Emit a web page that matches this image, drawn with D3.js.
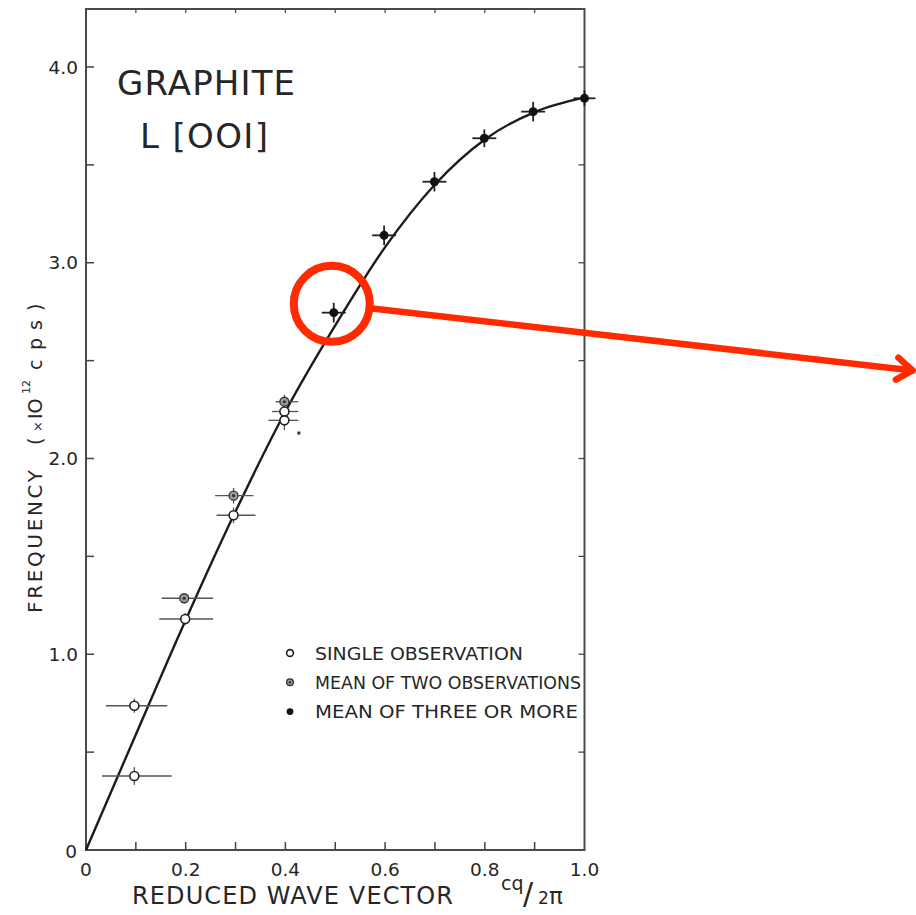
<!DOCTYPE html>
<html>
<head>
<meta charset="utf-8">
<script src="https://cdn.jsdelivr.net/npm/d3@7"></script>
<style>
  body { margin: 0; background: #fff; }
  svg text { font-family: "DejaVu Sans", sans-serif; fill: #262626; }
</style>
</head>
<body>
<svg id="chart" width="916" height="915"></svg>
<script>
// dispersion curve
const curveQ = [0, 0.1, 0.2, 0.3, 0.4, 0.5, 0.6, 0.7, 0.8, 0.9, 1.0];
const curveF = [0, 0.59, 1.175, 1.73, 2.24, 2.68, 3.08, 3.40, 3.63, 3.77, 3.845];

// single observations: q, freq, q-bar low/high, freq error
const singleQ = [0.097, 0.097, 0.199, 0.296, 0.398, 0.398];
const singleF = [0.378, 0.737, 1.18, 1.71, 2.24, 2.195];
const singleLo = [0.032, 0.040, 0.147, 0.262, 0.373, 0.366];
const singleHi = [0.172, 0.163, 0.255, 0.340, 0.426, 0.426];
const singleErr = [0.045, 0.036, 0.03, 0.04, 0.02, 0.05];

// mean of two observations
const twoQ = [0.197, 0.296, 0.398];
const twoF = [1.286, 1.81, 2.29];
const twoLo = [0.152, 0.259, 0.380];
const twoHi = [0.255, 0.336, 0.426];
const twoErr = [0.025, 0.04, 0.035];

// mean of three or more
const threeQ = [0.497, 0.598, 0.699, 0.799, 0.897, 1.0];
const threeF = [2.745, 3.14, 3.414, 3.636, 3.772, 3.84];
const threeLo = [0.473, 0.574, 0.675, 0.775, 0.873, 0.978];
const threeHi = [0.521, 0.622, 0.723, 0.823, 0.921, 1.022];
const threeErr = [0.05, 0.05, 0.05, 0.045, 0.05, 0.04];

const xTicks = [0, 0.2, 0.4, 0.6, 0.8, 1.0];
const xTickLabels = ["0", "0.2", "0.4", "0.6", "0.8", "1.0"];
const yTicks = [0, 1, 2, 3, 4];
const yTickLabels = ["0", "1.0", "2.0", "3.0", "4.0"];

const legendLabels = ["SINGLE OBSERVATION", "MEAN OF TWO OBSERVATIONS", "MEAN OF THREE OR MORE"];

// red call-out around the 0.5 point (data coords), arrow end off to the right
const calloutQ = 0.493, calloutF = 2.79;
const arrowQ = 1.658, arrowF = 2.45;

const svg = d3.select("#chart");
const x = d3.scaleLinear().domain([0, 1]).range([86, 584.5]);
const y = d3.scaleLinear().domain([0, 4]).range([850, 67]);
const frameTop = 9;

const ink = "#222";

// frame
svg.append("rect")
  .attr("x", x(0)).attr("y", frameTop)
  .attr("width", x(1) - x(0)).attr("height", y(0) - frameTop)
  .attr("fill", "none").attr("stroke", "#4a4a4a").attr("stroke-width", 2);

// minor ticks on all sides
const qTicks = d3.range(0, 11).map(i => i / 10);
const fTicks = d3.range(0, 9).map(i => i / 2);
svg.append("g").selectAll("line").data(qTicks.slice(1, 10)).enter().append("line")
  .attr("x1", d => x(d)).attr("x2", d => x(d))
  .attr("y1", y(0)).attr("y2", y(0) - 8)
  .attr("stroke", "#444").attr("stroke-width", 1.5);
svg.append("g").selectAll("line").data(qTicks.slice(1, 10)).enter().append("line")
  .attr("x1", d => x(d)).attr("x2", d => x(d))
  .attr("y1", frameTop).attr("y2", frameTop + 4)
  .attr("stroke", "#444").attr("stroke-width", 1.2);
svg.append("g").selectAll("line").data(fTicks.slice(1)).enter().append("line")
  .attr("x1", x(0)).attr("x2", x(0) + 8)
  .attr("y1", d => y(d)).attr("y2", d => y(d))
  .attr("stroke", "#444").attr("stroke-width", 1.5);
svg.append("g").selectAll("line").data(fTicks.slice(1)).enter().append("line")
  .attr("x1", x(1)).attr("x2", x(1) - 6)
  .attr("y1", d => y(d)).attr("y2", d => y(d))
  .attr("stroke", "#444").attr("stroke-width", 1.3);

// tick labels
svg.append("g").selectAll("text").data(xTicks).enter().append("text")
  .attr("x", d => x(d)).attr("y", 876)
  .attr("text-anchor", "middle").attr("font-size", 18.5)
  .text((d, i) => xTickLabels[i]);
svg.append("g").selectAll("text").data(yTicks).enter().append("text")
  .attr("x", d => d === 0 ? 77 : 78).attr("y", d => y(d) + (d === 0 ? 8 : 6.5))
  .attr("text-anchor", "end").attr("font-size", 18.5)
  .text((d, i) => yTickLabels[i]);

// axis titles
svg.append("text").attr("x", 132).attr("y", 904).attr("font-size", 24)
  .attr("textLength", 321).attr("lengthAdjust", "spacing")
  .text("REDUCED WAVE VECTOR");
svg.append("text").attr("x", 501).attr("y", 890).attr("font-size", 19).text("cq");
svg.append("text").attr("x", 523).attr("y", 904).attr("font-size", 30).text("/");
svg.append("text").attr("x", 538).attr("y", 904).attr("font-size", 17).text("2");
svg.append("text").attr("x", 549).attr("y", 904).attr("font-size", 23).text("π");

const yTitle = svg.append("g").attr("transform", "translate(42,0) rotate(-90)");
yTitle.append("text").attr("x", -613).attr("y", 0).attr("font-size", 20)
  .attr("textLength", 143).attr("lengthAdjust", "spacing").text("FREQUENCY");
const yUnit = [["(", -445], ["×", -432], ["IO", -419], ["c", -370], ["p", -350], ["s", -330], [")", -311]];
yTitle.selectAll(".unit").data(yUnit).enter().append("text")
  .attr("class", "unit")
  .attr("x", d => d[1]).attr("y", 0)
  .attr("font-size", d => d[0] === "×" ? 13 : 19)
  .text(d => d[0]);
yTitle.append("text").attr("x", -394).attr("y", -12).attr("font-size", 11).text("12");

// plot title
svg.append("text").attr("x", 117).attr("y", 95).attr("font-size", 34)
  .attr("textLength", 178).attr("lengthAdjust", "spacing").text("GRAPHITE");
svg.append("text").attr("x", 140).attr("y", 148).attr("font-size", 34)
  .attr("textLength", 128).attr("lengthAdjust", "spacing").text("L [OOI]");

// curve
const line = d3.line()
  .x(d => x(d[0])).y(d => y(d[1]))
  .curve(d3.curveMonotoneX);
svg.append("path")
  .datum(curveQ.map((q, i) => [q, curveF[i]]))
  .attr("d", line)
  .attr("fill", "none").attr("stroke", "#1c1c1c").attr("stroke-width", 2.4);

function toPoints(qs, fs, lo, hi, err) {
  return qs.map((q, i) => ({ q, f: fs[i], lo: lo[i], hi: hi[i], err: err[i] }));
}

function drawBars(points, color, width) {
  const g = svg.append("g").attr("stroke", color).attr("stroke-width", width);
  g.selectAll(".h").data(points).enter().append("line")
    .attr("x1", d => x(d.lo)).attr("x2", d => x(d.hi))
    .attr("y1", d => y(d.f)).attr("y2", d => y(d.f));
  g.selectAll(".v").data(points).enter().append("line")
    .attr("x1", d => x(d.q)).attr("x2", d => x(d.q))
    .attr("y1", d => y(d.f - d.err)).attr("y2", d => y(d.f + d.err));
}

function drawMarker(sel, kind, r) {
  if (kind === "single") {
    sel.append("circle").attr("r", r).attr("fill", "#fff").attr("stroke", ink).attr("stroke-width", 1.6);
  } else if (kind === "two") {
    sel.append("circle").attr("r", r).attr("fill", "#9a9a9a").attr("stroke", "#333").attr("stroke-width", 1.3);
    sel.append("circle").attr("r", r * 0.35).attr("fill", "#333");
  } else {
    sel.append("circle").attr("r", r).attr("fill", "#111");
  }
}

const single = toPoints(singleQ, singleF, singleLo, singleHi, singleErr);
const two = toPoints(twoQ, twoF, twoLo, twoHi, twoErr);
const three = toPoints(threeQ, threeF, threeLo, threeHi, threeErr);

drawBars(single, "#555", 1.3);
drawBars(two, "#555", 1.3);
drawBars(three, "#222", 1.8);

[[single, "single"], [two, "two"], [three, "three"]].forEach(([pts, kind]) => {
  svg.append("g").selectAll("g").data(pts).enter().append("g")
    .attr("transform", d => `translate(${x(d.q)},${y(d.f)})`)
    .each(function () { drawMarker(d3.select(this), kind, 4.5); });
});

// stray speck printed near the 0.4 cluster
svg.append("rect").attr("x", x(0.427) - 1.5).attr("y", y(2.13) - 1.5)
  .attr("width", 3).attr("height", 3).attr("fill", "#333");

// legend
const legend = svg.append("g").attr("transform", "translate(290,653)");
const legendKinds = ["single", "two", "three"];
const legendWidths = [208, 266, 263];
legendKinds.forEach((kind, i) => {
  const row = legend.append("g").attr("transform", `translate(0,${i * 29.3})`);
  drawMarker(row, kind, 3.4);
  row.append("text").attr("x", 25).attr("y", 6.5).attr("font-size", 18)
    .attr("textLength", legendWidths[i]).attr("lengthAdjust", "spacingAndGlyphs")
    .text(legendLabels[i]);
});

// red call-out
const red = "#ff2a00";
const cx = x(calloutQ), cy = y(calloutF), cr = 38;
const ax = x(arrowQ), ay = y(arrowF);
svg.append("circle").attr("cx", cx).attr("cy", cy).attr("r", cr)
  .attr("fill", "none").attr("stroke", red).attr("stroke-width", 8);
const ang = Math.atan2(ay - cy, ax - cx);
svg.append("line")
  .attr("x1", cx + (cr + 3) * Math.cos(ang)).attr("y1", cy + (cr + 3) * Math.sin(ang))
  .attr("x2", ax).attr("y2", ay)
  .attr("stroke", red).attr("stroke-width", 6.5).attr("stroke-linecap", "round");
const head = 19, spread = 0.62;
svg.append("path")
  .attr("d", `M${ax - head * Math.cos(ang - spread)},${ay - head * Math.sin(ang - spread)}
    L${ax},${ay} L${ax - head * Math.cos(ang + spread)},${ay - head * Math.sin(ang + spread)}`)
  .attr("fill", "none").attr("stroke", red).attr("stroke-width", 6.5)
  .attr("stroke-linecap", "round").attr("stroke-linejoin", "round");
</script>
</body>
</html>
